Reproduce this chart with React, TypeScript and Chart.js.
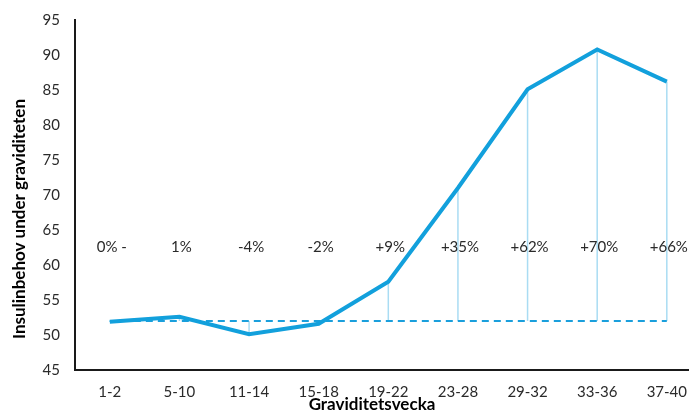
import React, { useEffect, useRef } from "react";
import { Chart, registerables } from "chart.js";

Chart.register(...registerables);

const categories = ["1-2", "5-10", "11-14", "15-18", "19-22", "23-28", "29-32", "33-36", "37-40"];
const insulinValues = [51.9, 52.6, 50.1, 51.6, 57.6, 71.0, 85.1, 90.8, 86.2];
const baselineValue = 52;
const percentLabels = ["0% -", "1%", "-4%", "-2%", "+9%", "+35%", "+62%", "+70%", "+66%"];
const percentLabelLevel = 62.5;
const yTitle = "Insulinbehov under graviditeten";
const xTitle = "Graviditetsvecka";

const FONT = "Lato, 'Open Sans', sans-serif";

const annotationsPlugin = {
  id: "annotations",
  beforeDatasetsDraw(chart: any) {
    const { ctx, scales } = chart;
    const xs = scales.x;
    const ys = scales.y;
    ctx.save();
    ctx.strokeStyle = "#a9dcf3";
    ctx.lineWidth = 1.5;
    insulinValues.forEach((v, i) => {
      const px = xs.getPixelForValue(i);
      ctx.beginPath();
      ctx.moveTo(px, ys.getPixelForValue(v));
      ctx.lineTo(px, ys.getPixelForValue(baselineValue));
      ctx.stroke();
    });
    ctx.restore();
  },
  afterDraw(chart: any) {
    const { ctx, scales } = chart;
    const xs = scales.x;
    const ys = scales.y;
    ctx.save();
    ctx.fillStyle = "#2a2a2a";
    ctx.font = `15px ${FONT}`;
    ctx.textAlign = "center";
    ctx.textBaseline = "middle";
    percentLabels.forEach((t, i) => {
      ctx.fillText(t, xs.getPixelForValue(i) + 2, ys.getPixelForValue(percentLabelLevel));
    });
    // Y title
    ctx.fillStyle = "#000000";
    ctx.font = `bold 17px ${FONT}`;
    ctx.save();
    ctx.translate(20, 219);
    ctx.rotate(-Math.PI / 2);
    ctx.fillText(yTitle, 0, 0);
    ctx.restore();
    // X title
    ctx.fillText(xTitle, 372, 405);
    ctx.restore();
  },
};

export default function App() {
  const ref = useRef<HTMLCanvasElement>(null);
  useEffect(() => {
    document.body.style.margin = "0";
    const canvas = ref.current!;
    const chart = new Chart(canvas, {
      type: "line",
      data: {
        datasets: [
          {
            data: insulinValues.map((v, i) => ({ x: i, y: v })),
            borderColor: "#12a0dc",
            borderWidth: 4,
            pointRadius: 0,
            tension: 0,
            order: 0,
          },
          {
            data: [
              { x: 0, y: baselineValue },
              { x: categories.length - 1, y: baselineValue },
            ],
            borderColor: "#1a9fdc",
            borderWidth: 2,
            borderDash: [7, 5],
            pointRadius: 0,
            order: 1,
          },
        ],
      },
      options: {
        animation: false,
        responsive: false,
        devicePixelRatio: 1,
        layout: { padding: { top: 20, right: 0, left: 0, bottom: 0 } },
        plugins: { legend: { display: false }, tooltip: { enabled: false } },
        scales: {
          x: {
            type: "linear",
            min: -0.5,
            max: 8.314,
            grid: { display: false },
            border: { color: "#1a1a1a", width: 2 },
            afterBuildTicks: (scale: any) => {
              scale.ticks = categories.map((_, i) => ({ value: i }));
            },
            afterFit: (scale: any) => {
              scale.height = 42;
            },
            ticks: {
              padding: 5,
              autoSkip: false,
              maxRotation: 0,
              color: "#2a2a2a",
              font: { family: FONT, size: 15 },
              callback: (v: any) => categories[v] ?? "",
            },
          },
          y: {
            min: 45,
            max: 95,
            grid: { display: false },
            border: { color: "#1a1a1a", width: 2 },
            afterFit: (scale: any) => {
              scale.width = 75;
            },
            ticks: {
              stepSize: 5,
              padding: 7,
              color: "#2a2a2a",
              font: { family: FONT, size: 15 },
            },
          },
        },
      },
      plugins: [annotationsPlugin],
    });
    return () => chart.destroy();
  }, []);
  return <canvas ref={ref} width={692} height={412} style={{ display: "block" }} />;
}
